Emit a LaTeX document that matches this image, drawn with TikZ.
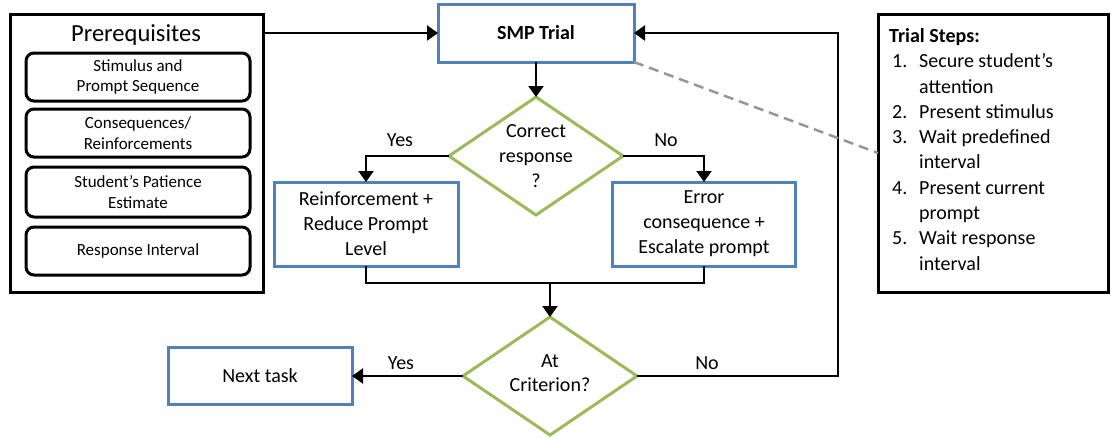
\documentclass[tikz,border=0pt]{standalone}
\usepackage{fontspec}
\setmainfont{Carlito}
\usetikzlibrary{shapes.geometric,arrows.meta}

\definecolor{boxblue}{RGB}{79,129,189}
\definecolor{decgreen}{RGB}{155,187,89}
\definecolor{linkgray}{RGB}{150,150,150}

\newcommand\fsmain{\fontsize{20}{25}\selectfont}
\newcommand\fssmall{\fontsize{17}{20.5}\selectfont}
\newcommand\fstitle{\fontsize{24.5}{29}\selectfont}

\begin{document}
\begin{tikzpicture}[x=1pt,y=-1pt,
  bluebox/.style={draw=boxblue, line width=3pt, fill=white, inner sep=0pt,
    outer sep=0pt, align=center, font=\fsmain},
  blackbox/.style={draw=black, line width=3pt, inner sep=0pt, outer sep=0pt},
  prereqbox/.style={draw=black, line width=3pt, rounded corners=8pt,
    inner sep=0pt, outer sep=0pt, minimum width=224pt, minimum height=48pt,
    align=center, font=\fssmall},
  decision/.style={diamond, draw=decgreen, line width=3pt, inner sep=0pt,
    outer sep=0pt, minimum width=174pt, minimum height=118pt},
  txt/.style={inner sep=0pt, align=center, font=\fsmain},
  link/.style={line width=2.2pt},
  flow/.style={line width=2.2pt, -{Triangle[length=11pt,width=15pt]}},
]
\useasboundingbox (0,0) rectangle (1112,437);

% prerequisites panel
\node[blackbox, minimum width=253pt, minimum height=278pt] (prereq) at (136.5,153) {};
\node[inner sep=0pt, font=\fstitle] (prereqtitle) at (136,35) {Prerequisites};
\node[prereqbox] (pstim) at (138,77) {Stimulus and\\Prompt Sequence};
\node[prereqbox] (pcons) at (138,133) {Consequences/\\Reinforcements};
\node[prereqbox, minimum height=50pt] (ppat) at (138,192) {Student's Patience\\Estimate};
\node[prereqbox] (presp) at (138,251) {Response Interval};

% trial steps panel
\node[blackbox, minimum width=230pt, minimum height=278pt] (steps) at (993,153) {};
\node[anchor=north west, inner sep=0pt, font=\fontsize{20}{25.3}\selectfont] (stepstext) at (889,24.5) {%
  \begin{tabular}{@{}p{30pt}@{}l@{}}
  \multicolumn{2}{@{}l@{}}{\textbf{Trial Steps:}}\\
  \hspace{3pt}1. & Secure student's\\
   & attention\\
  \hspace{3pt}2. & Present stimulus\\
  \hspace{3pt}3. & Wait predefined\\
   & interval\\
  \hspace{3pt}4. & Present current\\
   & prompt\\
  \hspace{3pt}5. & Wait response\\
   & interval
  \end{tabular}};

% flow chart
\node[bluebox, minimum width=196pt, minimum height=58pt, font=\fsmain\bfseries] (smp) at (536,33) {SMP Trial};
\node[decision] (corr) at (536,156) {};
\node[txt] (corrtxt) at (536,156) {Correct\\response\\?};
\node[bluebox, minimum width=184pt, minimum height=84pt] (reinf) at (366,224) {Reinforcement +\\Reduce Prompt\\Level};
\node[bluebox, minimum width=183pt, minimum height=84pt] (err) at (704,224) {Error\\consequence +\\Escalate prompt};
\node[decision] (crit) at (550,376) {};
\node[txt, font=\fontsize{20}{24}\selectfont] (crittxt) at (550,373) {At\\Criterion?};
\node[bluebox, minimum width=184pt, minimum height=57pt] (next) at (260,376) {Next task};

\coordinate (merge) at (550,283);
\coordinate (loop) at (838,33);

% connectors
\draw[flow] (prereq.east |- smp.west) -- (smp.west);
\draw[flow] (smp.south) -- (corr.north);
\draw[flow] (corr.west) -| (reinf.north);
\draw[flow] (corr.east) -| (err.north);
\draw[link] (reinf.south) |- (merge) -| (err.south);
\draw[flow] (merge) -- (crit.north);
\draw[flow] (crit.west) -- (next.east);
\draw[flow] (crit.east) -| (loop) -- (smp.east);
\draw[linkgray, line width=2.5pt, dash pattern=on 10pt off 6pt] (smp.south east) -- (steps.west);

% branch labels
\node[txt] (yes1) at (400,140) {Yes};
\node[txt] (no1) at (666,140) {No};
\node[txt] (yes2) at (401,363) {Yes};
\node[txt] (no2) at (707,363) {No};
\end{tikzpicture}
\end{document}
